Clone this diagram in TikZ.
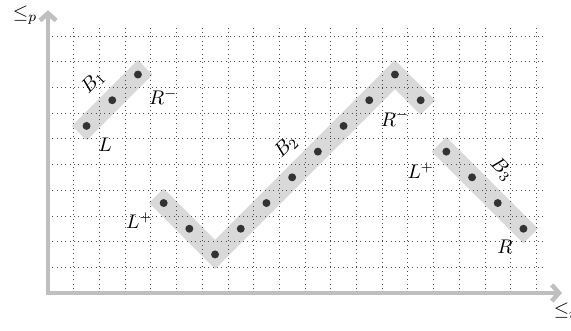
\documentclass[tikz,border=0pt]{standalone}
\usetikzlibrary{arrows.meta,backgrounds}
\begin{document}
\begin{tikzpicture}[x=0.5cm,y=0.5cm,font=\fontsize{11}{13}\selectfont,
  band/.style={line width=0.4cm,black!15,line cap=rect,line join=miter},
  dot/.style={circle,fill=black!80,inner sep=0pt,minimum size=4.4pt},
  axisline/.style={line width=2.5pt,black!25,line join=miter,
    arrows={Straight Barb[length=4pt,width=9pt]-Straight Barb[length=4pt,width=9pt]}},
  gridline/.style={dotted,black!70,line width=0.4pt,step=0.5cm},
  lbl/.style={inner sep=1pt}]
\useasboundingbox (-1.868,-1.479) rectangle (20.35,11.40);
\draw[gridline] (0,0) grid (19.4,10.4);
\coordinate (xend) at (20,0);
\coordinate (O) at (0,0);
\coordinate (yend) at (0,11);
\draw[axisline] (xend) -- (O) -- (yend);
% B1
\node[dot] (a1) at (1.5,6.5) {};
\node[dot] (a2) at (2.5,7.5) {};
\node[dot] (a3) at (3.5,8.5) {};
% B2
\node[dot] (b1) at (4.5,3.5) {};
\node[dot] (b2) at (5.5,2.5) {};
\node[dot] (b3) at (6.5,1.5) {};
\node[dot] (b4) at (7.5,2.5) {};
\node[dot] (b5) at (8.5,3.5) {};
\node[dot] (b6) at (9.5,4.5) {};
\node[dot] (b7) at (10.5,5.5) {};
\node[dot] (b8) at (11.5,6.5) {};
\node[dot] (b9) at (12.5,7.5) {};
\node[dot] (b10) at (13.5,8.5) {};
\node[dot] (b11) at (14.5,7.5) {};
% B3
\node[dot] (c1) at (15.5,5.5) {};
\node[dot] (c2) at (16.5,4.5) {};
\node[dot] (c3) at (17.5,3.5) {};
\node[dot] (c4) at (18.5,2.5) {};
\begin{scope}[on background layer]
\draw[band] (a1.center) -- (a2.center) -- (a3.center);
\draw[band] (b1.center) -- (b2.center) -- (b3.center) -- (b4.center) -- (b5.center) -- (b6.center) -- (b7.center) -- (b8.center) -- (b9.center) -- (b10.center) -- (b11.center);
\draw[band] (c1.center) -- (c2.center) -- (c3.center) -- (c4.center);
\end{scope}
% labels
\node[lbl,rotate=45] (B1) at (1.75,8.2) {$B_1$};
\node[lbl] (R1) at (4.48,7.64) {$R^-$};
\node[lbl] (L1) at (2.22,5.76) {$L$};
\node[lbl] (L2) at (3.55,2.81) {$L^+$};
\node[lbl,rotate=45] (B2) at (9.26,5.69) {$B_2$};
\node[lbl] (R2) at (13.5,6.8) {$R^-$};
\node[lbl] (L3) at (14.5,4.76) {$L^+$};
\node[lbl,rotate=-45] (B3) at (17.65,4.81) {$B_3$};
\node[lbl] (R3) at (17.78,1.80) {$R$};
\node[lbl] (lp) at (-0.9,10.82) {$\leq_p$};
\node[lbl] (li) at (20.1,-0.68) {$\leq_i$};
\end{tikzpicture}
\end{document}
